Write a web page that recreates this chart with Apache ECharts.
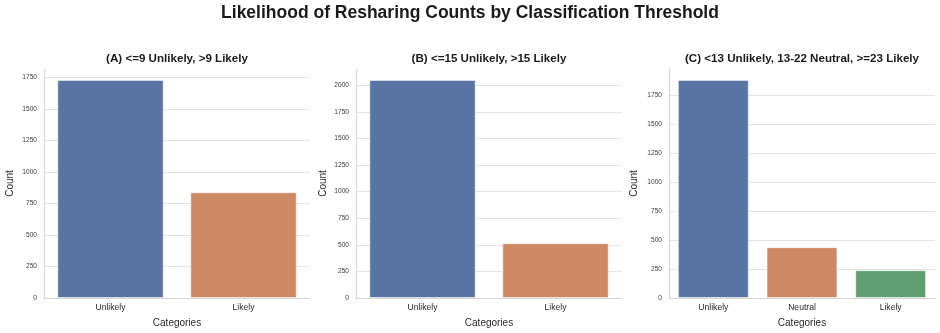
<!DOCTYPE html>
<html>
<head>
<meta charset="utf-8">
<script src="https://cdn.jsdelivr.net/npm/echarts@6/dist/echarts.min.js"></script>
<style>html,body{margin:0;padding:0;background:#fff}#c{width:940px;height:333px}</style>
</head>
<body>
<div id="c"></div>
<script>
// ---- data ----
const mainTitle = 'Likelihood of Resharing Counts by Classification Threshold';
const titleA = '(A) <=9 Unlikely, >9 Likely';
const titleB = '(B) <=15 Unlikely, >15 Likely';
const titleC = '(C) <13 Unlikely, 13-22 Neutral, >=23 Likely';
const catsA = ['Unlikely', 'Likely'];
const valsA = [1729, 838];
const catsB = ['Unlikely', 'Likely'];
const valsB = [2051, 516];
const catsC = ['Unlikely', 'Neutral', 'Likely'];
const valsC = [1883, 439, 240];
const yTickStep = 250;
const xName = 'Categories';
const yName = 'Count';

// ---- style ----
const FONT = '"Liberation Sans", Arial, sans-serif';
const palette = ['#5975a4', '#cc8963', '#5f9e6e'];
const gridColor = '#e4e4e4';
const spineColor = '#d6d6d6';

const panels = [
  {title: titleA, cats: catsA, vals: valsA, left: 44, right: 630, nameGap: 28.5},
  {title: titleB, cats: catsB, vals: valsB, left: 356, right: 318, nameGap: 28},
  {title: titleC, cats: catsC, vals: valsC, left: 669, right: 5, nameGap: 29.5}
];

const chart = echarts.init(document.getElementById('c'), null, {renderer: 'canvas'});
const grids = [], xAxes = [], yAxes = [], series = [], titles = [];
titles.push({text: mainTitle, left: 'center', top: 4, padding: 0,
  textStyle: {fontFamily: FONT, fontSize: 17.5, fontWeight: 'bold', color: '#1a1a1a'}});

panels.forEach((p, i) => {
  const top = 69, bottom = 35;
  grids.push({left: p.left, right: p.right, top: top, bottom: bottom, containLabel: false});
  const w = 940 - p.left - p.right;
  titles.push({text: p.title, left: p.left + w / 2, top: 52.5, padding: 0, textAlign: 'center',
    textStyle: {fontFamily: FONT, fontSize: 11.6, fontWeight: 'bold', color: '#1a1a1a'}});
  const ymax = Math.max(...p.vals) * 1.05;
  const nTicks = Math.floor(ymax / yTickStep) + 1;
  const lineColors = Array(nTicks).fill(gridColor).concat(['rgba(0,0,0,0)']);
  xAxes.push({type: 'category', gridIndex: i, data: p.cats,
    name: xName, nameLocation: 'middle', nameGap: 20,
    nameTextStyle: {fontFamily: FONT, fontSize: 10, color: '#2a2a2a'},
    axisLine: {show: true, lineStyle: {color: spineColor, width: 1.2}},
    axisTick: {show: false},
    axisLabel: {fontFamily: FONT, fontSize: 8.6, color: '#2a2a2a', margin: 5},
    splitLine: {show: false}});
  yAxes.push({type: 'value', gridIndex: i, min: 0, max: ymax, interval: yTickStep,
    name: yName, nameLocation: 'middle', nameGap: p.nameGap,
    nameTextStyle: {fontFamily: FONT, fontSize: 10, color: '#2a2a2a'},
    axisLine: {show: true, lineStyle: {color: spineColor, width: 1.2}},
    axisTick: {show: false},
    axisLabel: {fontFamily: FONT, fontSize: 6.6, color: '#3a3a3a', margin: 7, showMaxLabel: false,
      formatter: v => String(Math.round(v))},
    splitLine: {show: true, lineStyle: {color: lineColors, width: 1}}});
  series.push({type: 'bar', xAxisIndex: i, yAxisIndex: i, barCategoryGap: '20%',
    data: p.vals.map((v, j) => ({value: v, itemStyle: {color: palette[j]}})),
    itemStyle: {borderColor: 'rgba(255,255,255,0.55)', borderWidth: 1},
    emphasis: {disabled: true}, animation: false});
});

chart.setOption({
  animation: false,
  backgroundColor: '#ffffff',
  title: titles,
  grid: grids,
  xAxis: xAxes,
  yAxis: yAxes,
  series: series
});
</script>
</body>
</html>
